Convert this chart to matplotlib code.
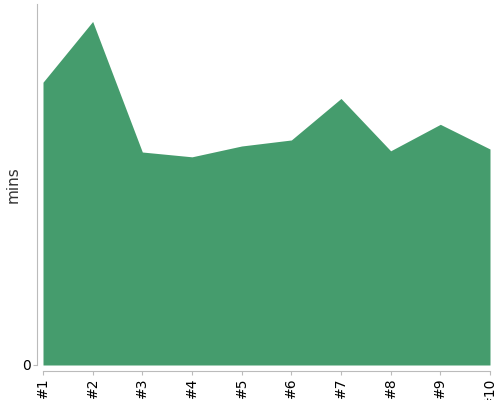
import numpy as np
import matplotlib.pyplot as plt

# run labels and durations (mins)
runs = ['#1', '#2', '#3', '#4', '#5', '#6', '#7', '#8', '#9', '#10']
mins = [47.0, 57.1, 35.4, 34.6, 36.4, 37.4, 44.3, 35.6, 40.0, 35.9]

green = '#459c6d'
grey = '#bbbbbb'

fig = plt.figure(figsize=(5, 4), dpi=100)
ax = fig.add_axes([0.086, 0.0875, 0.894, 0.9025])

x = np.arange(1, len(runs) + 1)
ax.fill_between(x, 0, mins, color=green, linewidth=0)

ax.set_xlim(1, 10)
ax.set_ylim(0, 60)
ax.set_xticks(x)
ax.set_xticklabels(runs, fontsize=6.3, color='#222222')
ax.set_yticks([0])
ax.set_yticklabels(['0'], fontsize=9, color='#555555')
ax.tick_params(axis='x', labelrotation=90)

for s in ['top', 'right']:
    ax.spines[s].set_visible(False)
ax.spines['left'].set_position(('outward', 4))
ax.spines['bottom'].set_position(('outward', 4))
ax.spines['bottom'].set_bounds(1, 10)
ax.spines['left'].set_color(grey)
ax.spines['bottom'].set_color(grey)
ax.tick_params(axis='both', color=grey, length=3, pad=2)

ax.set_ylabel('mins', fontsize=11, color='#333333')
ax.yaxis.set_label_coords(-0.051, 0.5)

fig.savefig('out.png')
